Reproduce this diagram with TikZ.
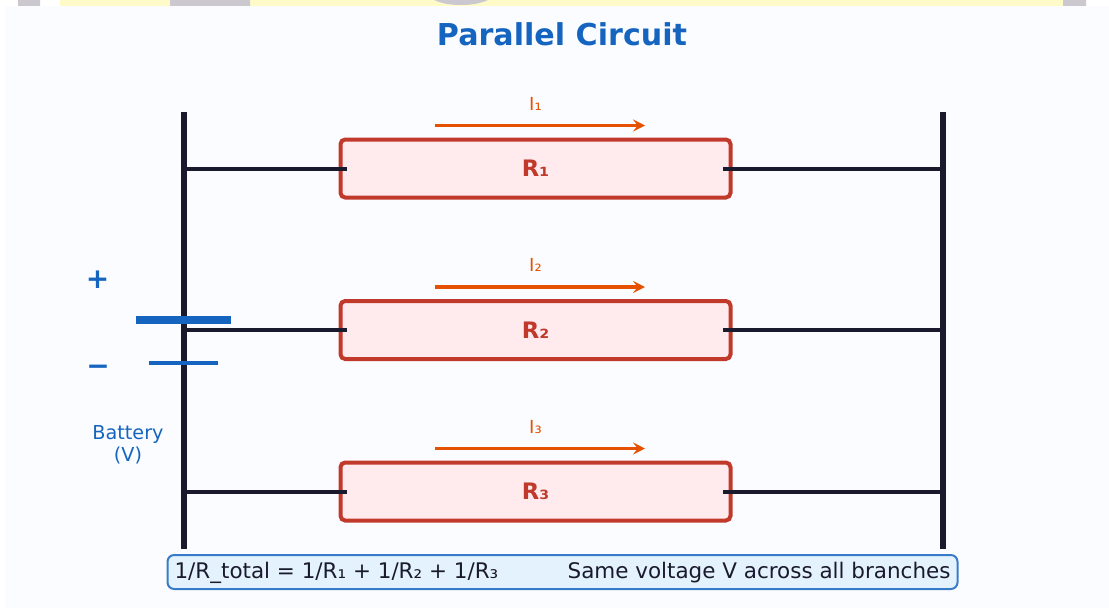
\documentclass[tikz,border=0pt]{standalone}
\usepackage{fontspec}
\setmainfont{DejaVu Sans}
\usetikzlibrary{arrows.meta}
\definecolor{panelbg}{HTML}{FBFCFF}
\definecolor{railcol}{HTML}{1A1A2E}
\definecolor{bluecol}{HTML}{1565C0}
\definecolor{redcol}{HTML}{C0392B}
\definecolor{redfill}{HTML}{FFEBEE}
\definecolor{orangecol}{HTML}{E65100}
\definecolor{notefill}{HTML}{E3F2FD}
\definecolor{stripyellow}{HTML}{FFFBC8}
\definecolor{stripgray}{HTML}{CBC8D0}
\tikzset{
	resistorbox/.style={draw=redcol,fill=redfill,line width=3pt,rounded corners=3.5pt,minimum width=390pt*0.75,minimum height=58pt*0.75,inner sep=0pt,text=redcol,font=\bfseries\fontsize{17}{20}\selectfont},
	railwire/.style={draw=railcol,line width=4.5pt},
	branchwire/.style={draw=railcol,line width=3pt},
	currentarrow/.style={draw=orangecol,line width=2.3pt,-{Stealth[length=9pt,width=9pt,inset=3.5pt]}},
	currentlabel/.style={text=orangecol,inner sep=0pt,font=\fontsize{13.5}{16}\selectfont},
	bluetext/.style={text=bluecol,inner sep=0pt}
}
\begin{document}
\begin{tikzpicture}[x=0.75pt,y=0.75pt,yscale=-1,xscale=1]
	\useasboundingbox (0,0) rectangle (1109,608);
	%Background
	\fill [white] (0,0) rectangle (1109,608);
	\fill [stripyellow] (60,0) rectangle (1063,6);
	\fill [stripgray] (18,0) rectangle (40,6) (170,0) rectangle (250,6) (1063,0) rectangle (1086,6);
	\fill [stripgray] (461,-6) ellipse [x radius=32,y radius=11];
	\fill [panelbg] (5,6) rectangle (1109,608);

	% Text Node
	\node (title) at (562,34) [inner sep=0pt,text=bluecol,font=\bfseries\fontsize{22.6}{26}\selectfont] {Parallel Circuit};

	%Rails
	\coordinate (leftTop) at (183.5,112);
	\coordinate (leftBot) at (183.5,549);
	\coordinate (rightTop) at (942.5,112);
	\coordinate (rightBot) at (942.5,549);
	\draw [railwire] (leftTop) -- (leftBot);
	\draw [railwire] (rightTop) -- (rightBot);

	%Branches
	\foreach \n/\ypos/\sub in {1/168.5/₁,2/330/₂,3/491.5/₃}{
		\coordinate (wireL\n) at (183.5,\ypos);
		\coordinate (wireR\n) at (942.5,\ypos);
		\node [resistorbox] (res\n) at (535.5,\ypos) {R\sub};
		\coordinate (stubL\n) at (347,\ypos);
		\coordinate (stubR\n) at (723,\ypos);
		\draw [branchwire] (wireL\n) -- (stubL\n);
		\draw [branchwire] (stubR\n) -- (wireR\n);
		\coordinate (arrowA\n) at (435,\ypos-43);
		\coordinate (arrowB\n) at (645,\ypos-43);
		\draw [currentarrow] (arrowA\n) -- (arrowB\n);
		\node [currentlabel] (cur\n) at (535.5,\ypos-65) {I\sub};
	}

	%Battery
	\coordinate (posA) at (136,320);
	\coordinate (posB) at (231,320);
	\coordinate (negA) at (148.5,362.5);
	\coordinate (negB) at (217.5,362.5);
	\draw [draw=bluecol,line width=6pt] (posA) -- (posB);
	\draw [draw=bluecol,line width=3pt] (negA) -- (negB);
	\node [bluetext,font=\bfseries\fontsize{21}{22}\selectfont] (plus) at (97.5,280) {+};
	\node [bluetext,font=\bfseries\fontsize{21}{22}\selectfont] (minus) at (98,370.5) {−};
	\node [bluetext,align=center,font=\fontsize{14.4}{16.7}\selectfont] (battery) at (128,445) {Battery\\(V)};

	% Text Node
	\node (note) at (562.5,572) [draw=bluecol!85,fill=notefill,line width=1.5pt,rounded corners=5pt,minimum width=592.5pt,minimum height=25.5pt,inner sep=0pt,text=railcol,font=\fontsize{16.1}{19}\selectfont] {\smash{\raisebox{-4.5pt}{1/R\_total = 1/R₁ + 1/R₂ + 1/R₃\hspace{52pt}Same voltage V across all branches}}};
\end{tikzpicture}
\end{document}
